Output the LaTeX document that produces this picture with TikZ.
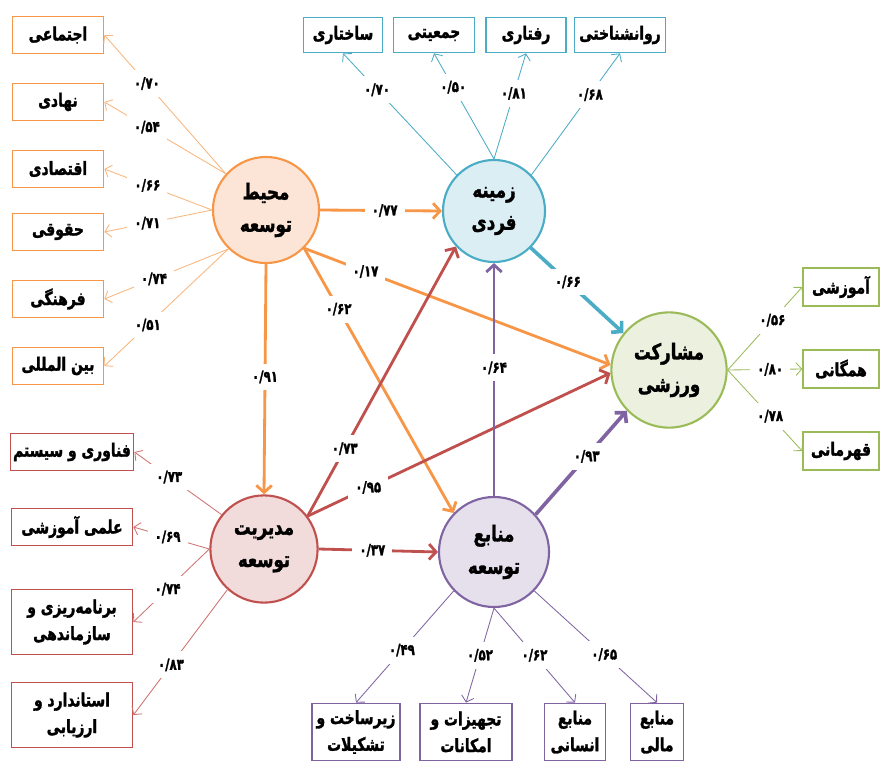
\documentclass[tikz,border=0pt]{standalone}
\usepackage{fontspec}
\usepackage{xcolor}
\usepackage{tikz}
\usetikzlibrary{positioning, calc, arrows.meta}

\TeXXeTstate=1
\newfontfamily\farsi[Script=Arabic, FakeStretch=0.76,
  BoldFeatures={FakeBold=1.6}]{DejaVu Sans}
\newcommand{\fa}[1]{{\farsi\beginR #1\endR}}

\definecolor{orng}{HTML}{F79646}
\definecolor{orngfill}{HTML}{FCE4D6}
\definecolor{blu}{HTML}{4BACC6}
\definecolor{blufill}{HTML}{DAEEF3}
\definecolor{grn}{HTML}{9BBB59}
\definecolor{grnfill}{HTML}{EBF1DE}
\definecolor{rd}{HTML}{C0504D}
\definecolor{rdfill}{HTML}{F2DCDB}
\definecolor{prp}{HTML}{8064A2}
\definecolor{prpfill}{HTML}{E5E0EC}

\tikzset{
  factor/.style = {draw, circle, line width = 1.5pt, inner sep = 0pt,
    align = center, font = \farsi\bfseries\fontsize{15.5}{23}\selectfont},
  item/.style = {draw, rectangle, fill = white, line width = 1.1pt,
    inner sep = 2pt, align = center,
    font = \farsi\bfseries\fontsize{13}{19}\selectfont},
  num/.style = {fill = white, inner sep = 5pt, text = black,
    font = \farsi\bfseries\fontsize{11}{13}\selectfont},
  ind/.style = {line width = 0.6pt, -{Straight Barb[length = 4pt, width = 9pt]}},
  effect/.style = {line width = 2pt, -{Straight Barb[length = 5pt, width = 11pt]}}
}

\begin{document}
\begin{tikzpicture}[x = 0.025cm, y = -0.025cm]
        \useasboundingbox [fill = white] (0,0) rectangle (880,762);

        % latent factors
        \node (env) [factor, draw = orng, fill = orngfill, minimum size = 2.65cm]
        at (266,210) {\fa{محیط}\\\fa{توسعه}};
        \node (indiv) [factor, draw = blu, fill = blufill, minimum size = 2.55cm]
        at (494,211) {\fa{زمینه}\\\fa{فردی}};
        \node (sport) [factor, draw = grn, fill = grnfill, minimum size = 2.88cm]
        at (669,370) {\fa{مشارکت}\\\fa{ورزشی}};
        \node (mgmt) [factor, draw = rd, fill = rdfill, minimum size = 2.68cm]
        at (264,549) {\fa{مدیریت}\\\fa{توسعه}};
        \node (res) [factor, draw = prp, fill = prpfill, minimum size = 2.75cm]
        at (494,552) {\fa{منابع}\\\fa{توسعه}};

        % items of env
        \node (social) [item, draw = orng, minimum width = 2.28cm, minimum
        height = 0.93cm] at (58,35) {\fa{اجتماعی}};
        \node (instit) [item, draw = orng, minimum width = 2.28cm, minimum
        height = 0.93cm] at (58,102) {\fa{نهادی}};
        \node (econ) [item, draw = orng, minimum width = 2.28cm, minimum
        height = 0.93cm] at (58,169) {\fa{اقتصادی}};
        \node (legal) [item, draw = orng, minimum width = 2.28cm, minimum
        height = 0.93cm] at (58,232) {\fa{حقوقی}};
        \node (cult) [item, draw = orng, minimum width = 2.28cm, minimum
        height = 0.93cm] at (58,299) {\fa{فرهنگی}};
        \node (intl) [item, draw = orng, minimum width = 2.28cm, minimum
        height = 0.93cm] at (58,366) {\fa{بین المللی}};

        % items of indiv
        \node (struct) [item, draw = blu, minimum width = 1.98cm, minimum
        height = 0.88cm] at (343,35) {\fa{ساختاری}};
        \node (demo) [item, draw = blu, minimum width = 2.02cm, minimum
        height = 0.88cm] at (434,35) {\fa{جمعیتی}};
        \node (behav) [item, draw = blu, minimum width = 2cm, minimum
        height = 0.88cm] at (526,35) {\fa{رفتاری}};
        \node (psych) [item, draw = blu, minimum width = 2.28cm, minimum
        height = 0.88cm] at (620,35) {\fa{روانشناختی}};

        % items of sport
        \node (edu) [item, draw = grn, minimum width = 1.9cm, minimum
        height = 0.95cm] at (841,287) {\fa{آموزشی}};
        \node (public) [item, draw = grn, minimum width = 1.9cm, minimum
        height = 0.95cm] at (841,369) {\fa{همگانی}};
        \node (champ) [item, draw = grn, minimum width = 1.9cm, minimum
        height = 0.95cm] at (841,451) {\fa{قهرمانی}};

        % items of mgmt
        \node (tech) [item, draw = rd, minimum width = 3.03cm, minimum
        height = 0.93cm] at (72,452) {\fa{فناوری و سیستم}};
        \node (sci) [item, draw = rd, minimum width = 3.03cm, minimum
        height = 0.93cm] at (72,527) {\fa{علمی آموزشی}};
        \node (plan) [item, draw = rd, minimum width = 3.03cm, minimum
        height = 1.63cm] at (72,622) {\fa{برنامه‌ریزی و}\\\fa{سازماندهی}};
        \node (std) [item, draw = rd, minimum width = 3.03cm, minimum
        height = 1.63cm] at (72,715) {\fa{استاندارد و}\\\fa{ارزیابی}};

        % items of res
        \node (infra) [item, draw = prp, minimum width = 2.2cm, minimum
        height = 1.43cm] at (356,732) {\fa{زیرساخت و}\\\fa{تشکیلات}};
        \node (equip) [item, draw = prp, minimum width = 2.3cm, minimum
        height = 1.43cm] at (466,732) {\fa{تجهیزات و}\\\fa{امکانات}};
        \node (human) [item, draw = prp, minimum width = 1.53cm, minimum
        height = 1.43cm] at (575,732) {\fa{منابع}\\\fa{انسانی}};
        \node (money) [item, draw = prp, minimum width = 1.33cm, minimum
        height = 1.43cm] at (657,732) {\fa{منابع}\\\fa{مالی}};

        % loadings
        \draw [ind, orng!70] (env.138) -- (social.east) node [num, pos = 0.65] {۰/۷۰};
        \draw [ind, orng!70] (env.138) -- (instit.east) node [num, pos = 0.65] {۰/۵۴};
        \draw [ind, orng!70] (env.180) -- (econ.east) node [num, pos = 0.6] {۰/۶۶};
        \draw [ind, orng!70] (env.180) -- (legal.east) node [num, pos = 0.6] {۰/۷۱};
        \draw [ind, orng!70] (env.226) -- (cult.east) node [num, pos = 0.6] {۰/۷۴};
        \draw [ind, orng!70] (env.226) -- (intl.east) node [num, pos = 0.65] {۰/۵۱};

        \draw [ind, blu] (indiv.136) -- (struct.south) node [num, pos = 0.7] {۰/۷۰};
        \draw [ind, blu] (indiv.90) -- (demo.south) node [num, pos = 0.68] {۰/۵۰};
        \draw [ind, blu] (indiv.90) -- (behav.south) node [num, pos = 0.62] {۰/۸۱};
        \draw [ind, blu] (indiv.44) -- (psych.south) node [num, pos = 0.66] {۰/۶۸};

        \draw [ind, grn] (sport.0) -- (edu.west) node [num, pos = 0.6] {۰/۵۶};
        \draw [ind, grn] (sport.0) -- (public.west) node [num, pos = 0.57] {۰/۸۰};
        \draw [ind, grn] (sport.0) -- (champ.west) node [num, pos = 0.57] {۰/۷۸};

        \draw [ind, rd!80] (mgmt.141) -- (tech.east) node [num, pos = 0.6] {۰/۷۳};
        \draw [ind, rd!80] (mgmt.180) -- (sci.east) node [num, pos = 0.55] {۰/۶۹};
        \draw [ind, rd!80] (mgmt.180) -- (plan.east) node [num, pos = 0.55] {۰/۷۴};
        \draw [ind, rd!80] (mgmt.228) -- (std.east) node [num, pos = 0.6] {۰/۸۳};

        \draw [ind, prp] (res.224) -- (infra.north) node [num, pos = 0.53] {۰/۴۹};
        \draw [ind, prp] (res.270) -- (equip.north) node [num, pos = 0.5] {۰/۵۲};
        \draw [ind, prp] (res.270) -- (human.north) node [num, pos = 0.5] {۰/۶۲};
        \draw [ind, prp] (res.316) -- (money.north) node [num, pos = 0.57] {۰/۶۵};

        % paths between factors
        \draw [effect, orng] (env.east) -- (indiv.west) node [num, pos = 0.53] {۰/۷۷};
        \draw [effect, orng] (env.south) -- (mgmt.north) node [num, pos = 0.49] {۰/۹۱};
        \draw [effect, orng] (env.-45) -- (res.136) node [num, pos = 0.23] {۰/۶۲};
        \draw [effect, orng] (env.-45) -- (sport.175) node [num, pos = 0.2] {۰/۱۷};
        \draw [effect, rd] (mgmt.37) -- (indiv.223) node [num, pos = 0.25] {۰/۷۳};
        \draw [effect, rd] (mgmt.37) -- (sport.183) node [num, pos = 0.2] {۰/۹۵};
        \draw [effect, rd] (mgmt.east) -- (res.west) node [num, pos = 0.45] {۰/۳۷};
        \draw [effect, prp] (res.north) -- (indiv.south) node [num, pos = 0.55] {۰/۶۴};
        \draw [effect, prp, line width = 2.6pt] (res.42) -- (sport.224) node [num, pos = 0.56] {۰/۹۳};
        \draw [effect, blu, line width = 2.6pt] (indiv.-45) -- (sport.141) node [num, pos = 0.4] {۰/۶۶};
    \end{tikzpicture}
\end{document}
